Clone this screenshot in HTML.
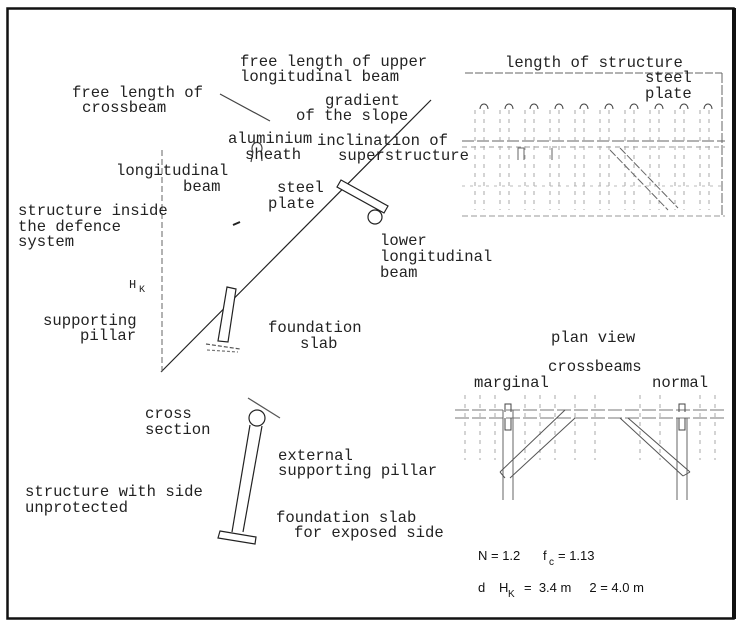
<!DOCTYPE html>
<html><head><meta charset="utf-8"><style>
html,body{margin:0;padding:0;background:#fff}
svg{display:block}
text{font-family:"Liberation Mono",monospace;font-size:15.6px;fill:#222}
.f{font-family:"Liberation Sans",sans-serif;font-size:13px;fill:#111}
</style></head><body>
<svg width="750" height="629" viewBox="0 0 750 629" xmlns="http://www.w3.org/2000/svg">
<rect x="7.5" y="8.5" width="726" height="610" fill="none" stroke="#111" stroke-width="2.5"/>
<line x1="734" y1="8" x2="734" y2="619" stroke="#111" stroke-width="4"/>
<g stroke="#222" fill="none" stroke-width="1.2">
<line x1="161" y1="372" x2="431" y2="100"/>
<line x1="162" y1="150" x2="162" y2="372" stroke-dasharray="6,3" stroke="#666" stroke-width="1"/>
<polygon points="341,180 388,206 384,213 337,187" fill="#fff"/>
<circle cx="375" cy="217" r="7"/>
<polygon points="227,287 236,289 228,342 218,341" fill="#fff"/>
<line x1="206" y1="344" x2="240" y2="349" stroke-dasharray="4,2" stroke="#555"/>
<line x1="207" y1="350" x2="238" y2="352" stroke-dasharray="3,2" stroke="#777"/>
<line x1="220" y1="94" x2="270" y2="121" stroke="#444"/>
<path d="M253 152 a5 6 0 1 1 8 0 M253 152 l-2 10 M261 152 l1 9" stroke="#444"/>
<line x1="233" y1="225" x2="240" y2="222" stroke-width="2"/>
<circle cx="257" cy="418" r="8"/>
<line x1="250" y1="425" x2="232" y2="532"/>
<line x1="262" y1="426" x2="243" y2="532"/>
<line x1="248" y1="398" x2="280" y2="418" stroke="#555"/>
<polygon points="220,531 256,537 255,544 218,538"/>
</g>
<g stroke="#999" fill="none" stroke-width="1">
<line x1="465" y1="73" x2="722" y2="73" stroke-dasharray="8,2" stroke="#666"/>
<line x1="722" y1="73" x2="722" y2="215" stroke-dasharray="10,2" stroke="#666"/>
<line x1="462" y1="141" x2="725" y2="141" stroke-dasharray="12,3" stroke="#666"/>
<line x1="462" y1="147" x2="725" y2="147" stroke-dasharray="5,4"/>
<line x1="462" y1="186" x2="725" y2="186" stroke-dasharray="3,5" stroke="#bbb"/>
<line x1="462" y1="216" x2="725" y2="216" stroke-dasharray="6,3"/>
<g stroke-dasharray="4,5" stroke="#aaa">
<path d="M475 110v100M484 110v100M500 110v100M509 110v100M525 110v100M534 110v100M550 110v100M559 110v100M575 110v100M584 110v100M600 110v100M609 110v100M625 110v100M634 110v100M650 110v100M659 110v100M675 110v100M684 110v100M700 110v100M709 110v100"/>
</g>
<path d="M610 150 L668 210 M620 148 L678 208" stroke="#666" stroke-dasharray="8,2"/>
<path d="M480 109 a4 5 0 1 1 8 0 M505 109 a4 5 0 1 1 8 0 M530 109 a4 5 0 1 1 8 0 M555 109 a4 5 0 1 1 8 0 M580 109 a4 5 0 1 1 8 0 M605 109 a4 5 0 1 1 8 0 M630 109 a4 5 0 1 1 8 0 M655 109 a4 5 0 1 1 8 0 M680 109 a4 5 0 1 1 8 0 M704 109 a4 5 0 1 1 8 0" stroke="#444"/>
<path d="M518 160v-12h6v12M552 160v-12" stroke="#666"/>
</g>
<g stroke="#777" fill="none" stroke-width="1">
<line x1="455" y1="410" x2="725" y2="410" stroke-dasharray="14,3"/>
<line x1="455" y1="418" x2="725" y2="418" stroke-dasharray="14,3"/>
<g stroke-dasharray="4,5" stroke="#aaa">
<path d="M465 395v65M480 395v65M495 395v65M525 395v65M540 395v65M555 395v65M575 395v65M595 395v65M640 395v65M660 395v65M700 395v65M715 395v65"/>
</g>
<path d="M503 410v90M513 410v90M677 418v82M687 418v82" stroke="#666"/>
<path d="M505 412v-8h6v8M505 418v12h6v-12M679 412v-8h6v8M679 418v12h6v-12" stroke="#444"/>
<path d="M565 410 L500 472 M575 418 L510 478 M500 472 l5 6" stroke="#555"/>
<path d="M620 418 L683 476 M628 418 L690 472 M683 476 l7 -4" stroke="#555"/>
</g>
<text x="240" y="66">free length of upper</text>
<text x="240" y="81">longitudinal beam</text>
<text x="72" y="97">free length of</text>
<text x="82" y="112">crossbeam</text>
<text x="325" y="105">gradient</text>
<text x="296" y="120">of the slope</text>
<text x="228" y="143">aluminium</text>
<text x="245" y="159">sheath</text>
<text x="116" y="175">longitudinal</text>
<text x="183" y="191">beam</text>
<text x="317" y="145">inclination of</text>
<text x="338" y="160">superstructure</text>
<text x="277" y="192">steel</text>
<text x="268" y="208">plate</text>
<text x="18" y="215">structure inside</text>
<text x="18" y="231">the defence</text>
<text x="18" y="246">system</text>
<text x="380" y="245">lower</text>
<text x="380" y="261">longitudinal</text>
<text x="380" y="277">beam</text>
<text x="129" y="288" style="font-size:12px">H</text><text x="139" y="292" style="font-size:10px">K</text>
<text x="43" y="325">supporting</text>
<text x="80" y="340">pillar</text>
<text x="268" y="332">foundation</text>
<text x="300" y="348">slab</text>
<text x="505" y="67">length of structure</text>
<text x="645" y="82">steel</text>
<text x="645" y="98">plate</text>
<text x="551" y="342">plan view</text>
<text x="548" y="371">crossbeams</text>
<text x="474" y="387">marginal</text>
<text x="652" y="387">normal</text>
<text x="145" y="418">cross</text>
<text x="145" y="434">section</text>
<text x="278" y="460">external</text>
<text x="278" y="475">supporting pillar</text>
<text x="25" y="496">structure with side</text>
<text x="25" y="512">unprotected</text>
<text x="276" y="522">foundation slab</text>
<text x="294" y="537">for exposed side</text>
<text class="f" x="478" y="560">N = 1.2</text><text class="f" x="543" y="560">f</text><text class="f" x="549" y="565" style="font-size:10px">c</text><text class="f" x="558" y="560">= 1.13</text>
<text class="f" x="478" y="592">d</text><text class="f" x="499" y="592">H</text><text class="f" x="508" y="597" style="font-size:10px">K</text><text class="f" x="524" y="592">=&#160;&#160;3.4 m&#160;&#160;&#160;&#160;&#160;2 = 4.0 m</text>
</svg>
</body></html>
